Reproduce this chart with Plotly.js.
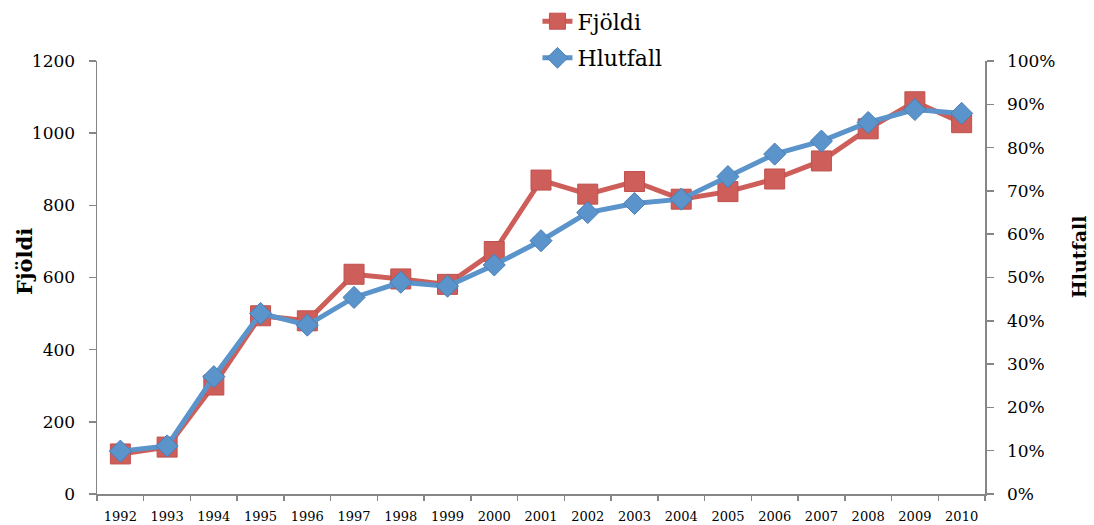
<!DOCTYPE html>
<html>
<head>
<meta charset="utf-8">
<script src="https://cdn.plot.ly/plotly-3.0.1.min.js"></script>
<style>html,body{margin:0;padding:0;background:#fff;}#chart{width:1094px;height:525px;}</style>
</head>
<body>
<div id="chart"></div>
<script>
const years = ["1992","1993","1994","1995","1996","1997","1998","1999","2000","2001","2002","2003","2004","2005","2006","2007","2008","2009","2010"];
const fjoldi = [111,130,302,494,480,609,596,581,672,870,831,866,817,838,873,923,1012,1087,1029];
const hlutfall = [0.099,0.111,0.271,0.417,0.390,0.454,0.489,0.480,0.529,0.585,0.650,0.671,0.681,0.733,0.785,0.815,0.858,0.888,0.879];
const leftTicks = [0,200,400,600,800,1000,1200];
const leftTitle = "Fjöldi";
const rightTitle = "Hlutfall";

const serif = "DejaVu Serif";
const axisColor = "#868686";

const traces = [
  {
    x: years, y: fjoldi, name: "Fjöldi", type: "scatter", mode: "lines+markers",
    yaxis: "y", legendgroup: "a",
    line: {color: "#CD5E59", width: 5},
    marker: {symbol: "square", size: 20, color: "#CD5E59", line: {color: "#C0504D", width: 1}}
  },
  {
    x: years, y: hlutfall, name: "Hlutfall", type: "scatter", mode: "lines+markers",
    yaxis: "y2", legendgroup: "b",
    line: {color: "#5B93CB", width: 5},
    marker: {symbol: "diamond", size: 17, color: "#5B93CB", line: {color: "#4A7EB8", width: 1}}
  }
];

const layout = {
  width: 1094, height: 525,
  margin: {l: 97, r: 109, t: 61, b: 31, pad: 0, autoexpand: false},
  paper_bgcolor: "#fff", plot_bgcolor: "#fff",
  font: {family: serif, color: "#000"},
  showlegend: true,
  legend: {
    x: 0.496, xanchor: "left", y: 1.14, yanchor: "top",
    font: {family: serif, size: 22, color: "#000"},
    tracegroupgap: 5, bgcolor: "rgba(0,0,0,0)"
  },
  xaxis: {
    type: "category", range: [-0.5, 18.5],
    showline: true, linecolor: axisColor, linewidth: 1.5,
    ticks: "outside", ticklen: 5, tickcolor: axisColor, tickwidth: 1.5,
    tickson: "boundaries", ticklabelstandoff: 10,
    tickfont: {family: serif, size: 13, color: "#000"},
    showgrid: false, zeroline: false, fixedrange: true
  },
  yaxis: {
    range: [0, 1200], tickvals: leftTicks,
    showline: true, linecolor: axisColor, linewidth: 1.5,
    ticks: "outside", ticklen: 7, tickcolor: axisColor, tickwidth: 1.5,
    ticklabelstandoff: 10,
    tickfont: {family: serif, size: 17, color: "#000"},
    showgrid: false, zeroline: false
  },
  yaxis2: {
    range: [0, 1], dtick: 0.1, tickformat: ".0%", overlaying: "y", side: "right",
    showline: true, linecolor: axisColor, linewidth: 1.5,
    ticks: "outside", ticklen: 7, tickcolor: axisColor, tickwidth: 1.5,
    ticklabelstandoff: 10,
    tickfont: {family: serif, size: 17, color: "#000"},
    showgrid: false, zeroline: false
  },
  annotations: [
    {text: leftTitle, xref: "paper", yref: "paper", x: -0.081, y: 0.536, xanchor: "center", yanchor: "middle",
     textangle: -90, showarrow: false, font: {family: serif, size: 21, color: "#000", weight: "bold"}},
    {text: rightTitle, xref: "paper", yref: "paper", x: 1.106, y: 0.547, xanchor: "center", yanchor: "middle",
     textangle: -90, showarrow: false, font: {family: serif, size: 19, color: "#000", weight: "bold"}}
  ]
};

Plotly.newPlot("chart", traces, layout, {displayModeBar: false, staticPlot: true});
</script>
</body>
</html>
